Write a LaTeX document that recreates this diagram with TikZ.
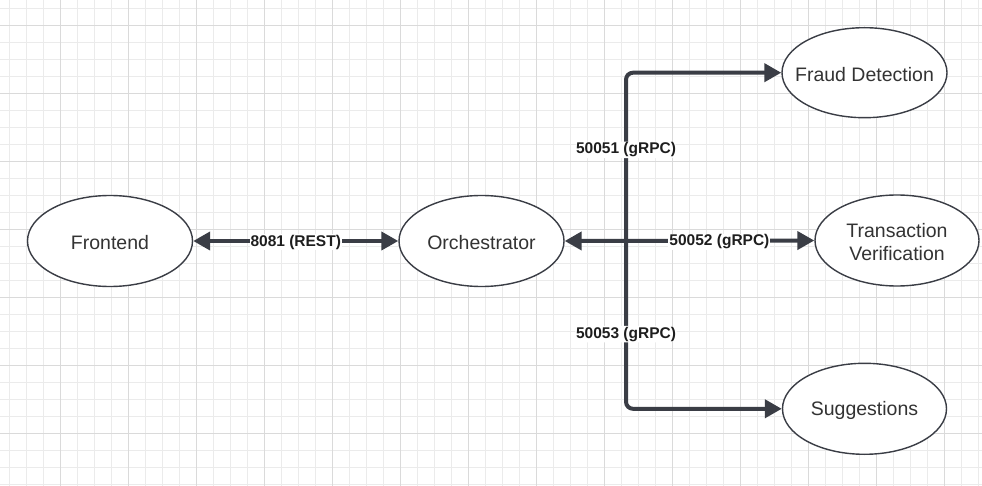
\documentclass[tikz,border=0pt]{standalone}
\usepackage{fontspec}
\setmainfont{Liberation Sans}
\usetikzlibrary{shapes.geometric,arrows.meta}
\definecolor{gridminor}{HTML}{EBEBEB}
\definecolor{gridmajor}{HTML}{DADADA}
\definecolor{edgecol}{HTML}{3A3D45}
\definecolor{txtcol}{HTML}{333333}
\definecolor{lblcol}{HTML}{1E1E1E}
\tikzset{
  svc/.style={ellipse, draw=edgecol, line width=1.4pt, fill=white, inner sep=0pt,
    minimum width=165pt, minimum height=91pt,
    label={[svctext]center:#1}},
  svctext/.style={text=txtcol, inner sep=0pt, yshift=-1.5pt,
    font=\fontsize{19.5}{23.5}\selectfont, align=center},
  conn/.style={draw=edgecol, line width=4pt},
  tip/.style={-{Triangle[length=17pt,width=18pt]}},
  dtip/.style={{Triangle[length=17pt,width=18pt]}-{Triangle[length=17pt,width=18pt]}},
  lbl/.style={fill=white, inner sep=1pt, text=lblcol, yshift=-1.2pt, font=\fontsize{15.5}{18}\selectfont\bfseries}
}
\begin{document}
\begin{tikzpicture}[x=1pt,y=-1pt]
\useasboundingbox (0,0) rectangle (982,486);
\fill[white] (0,0) rectangle (982,486);
% grid
\foreach \i in {0,...,57} \draw[gridminor, line width=1pt] ({9.7+17*\i},0) -- ++(0,486);
\foreach \i in {0,...,28} \draw[gridminor, line width=1pt] (0,{8.3+17*\i}) -- ++(982,0);
\foreach \i in {0,...,14} \draw[gridmajor, line width=1pt] ({-7.3+68*\i},0) -- ++(0,486);
\foreach \i in {0,...,7} \draw[gridmajor, line width=1pt] (0,{25.3+68*\i}) -- ++(982,0);
% nodes
\node[svc={Frontend}] (fe) at (110,241) {};
\node[svc={Orchestrator}] (orch) at (481.5,241) {};
\node[svc={Fraud Detection}, minimum height=90pt] (fraud) at (864.5,72.7) {};
\node[svc={Transaction\\Verification}, minimum width=164pt] (tv) at (897,240.5) {};
\node[svc={Suggestions}, minimum width=164pt] (sugg) at (864.5,408.8) {};
\coordinate (j) at (626,241);
% connectors
\draw[conn, rounded corners=7pt, tip] (j) |- (fraud.west) node[lbl, pos=0.274] {50051 (gRPC)};
\draw[conn, rounded corners=7pt, tip] (j) |- (sugg.west) node[lbl, pos=0.274] {50053 (gRPC)};
\draw[conn, dtip] (fe.east) -- (orch.west) node[lbl, pos=0.5] {8081 (REST)};
\draw[conn, dtip] (orch.east) -- (tv.west) node[lbl, pos=0.62] {50052 (gRPC)};
\end{tikzpicture}
\end{document}
